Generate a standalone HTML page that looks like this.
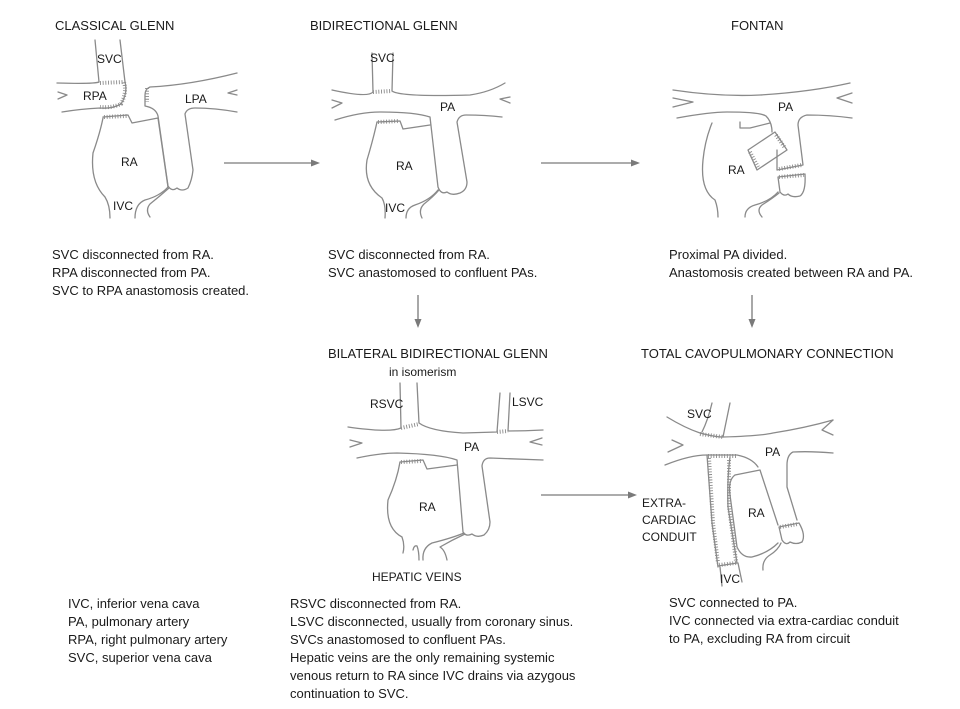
<!DOCTYPE html>
<html><head><meta charset="utf-8"><style>
html,body{margin:0;padding:0;background:#fff}
svg{display:block}
text{font-family:"Liberation Sans",sans-serif;font-size:13px;fill:#1a1a1a}
.l{fill:none;stroke:#8a8a8a;stroke-width:1.3;stroke-linejoin:round;stroke-linecap:round}
.s{fill:none;stroke:#8a8a8a;stroke-width:4;stroke-dasharray:0.9 1.8}
.a{stroke:#7a7a7a;stroke-width:1.3;fill:none}
.h{fill:#7a7a7a}
.sm{font-size:12px}
</style></head><body>
<svg width="960" height="709" viewBox="0 0 960 709">
<!-- titles -->
<text x="55" y="30">CLASSICAL GLENN</text>
<text x="310" y="30">BIDIRECTIONAL GLENN</text>
<text x="731" y="30">FONTAN</text>
<text x="328" y="358">BILATERAL BIDIRECTIONAL GLENN</text>
<text x="389" y="376" class="sm">in isomerism</text>
<text x="641" y="358">TOTAL CAVOPULMONARY CONNECTION</text>

<!-- arrows -->
<line class="a" x1="224" y1="163" x2="314" y2="163"/><polygon class="h" points="320,163 311,159.5 311,166.5"/>
<line class="a" x1="541" y1="163" x2="634" y2="163"/><polygon class="h" points="640,163 631,159.5 631,166.5"/>
<line class="a" x1="541" y1="495" x2="631" y2="495"/><polygon class="h" points="637,495 628,491.5 628,498.5"/>
<line class="a" x1="418" y1="295" x2="418" y2="322"/><polygon class="h" points="418,328 414.5,319 421.5,319"/>
<line class="a" x1="752" y1="295" x2="752" y2="322"/><polygon class="h" points="752,328 748.5,319 755.5,319"/>

<!-- CLASSICAL GLENN -->
<path class="l" d="M95,40 L99,82 Q95,84 57,83"/>
<path class="l" d="M120,40 L125,82 Q128,93 121,104 Q112,109 100,108 Q80,109 62,112"/>
<path class="s" d="M100,83 L124,82 Q127,93 121,104 Q112,108 100,107"/>
<path class="l" d="M58,92 L67,95 L58,99"/>
<path class="l" d="M237,73 Q190,85 150,87 Q145,89 145,95 L145,106 Q156,108 158,116 L168,186 Q172,192 177,188 Q182,192 188,188 Q192,180 193,170 L185,114 Q187,108 195,108 Q215,108 237,112"/>
<path class="s" d="M147,88 L147,102"/>
<path class="l" d="M237,90 L228,93 L237,95"/>
<path class="l" d="M103,117 L128,115 L132,123 L158,118 L168,187"/>
<path class="s" d="M104,117 L127,116"/>
<path class="l" d="M103,118 Q100,133 93,153 Q90,182 105,197 Q110,205 110,218"/>
<path class="l" d="M135,218 Q135,204 145,200 Q160,196 168,187"/>
<path class="l" d="M150,217 Q145,210 150,204 Q160,196 169,188"/>
<text x="97" y="63" class="sm">SVC</text>
<text x="83" y="100" class="sm">RPA</text>
<text x="185" y="103" class="sm">LPA</text>
<text x="121" y="166" class="sm">RA</text>
<text x="113" y="210" class="sm">IVC</text>

<!-- BIDIRECTIONAL GLENN -->
<path class="l" d="M372,53 L373,92 Q368,98 332,90"/>
<path class="l" d="M393,53 L392,91 Q400,97 470,95 Q490,92 505,83"/>
<path class="s" d="M373,92 L392,91"/>
<path class="l" d="M332,100 L342,103 L332,108"/>
<path class="l" d="M510,97 L500,99 L510,103"/>
<path class="l" d="M335,120 Q360,112 380,112 Q415,112 430,117 L438,187 Q441,195 447,192 Q452,196 460,193 Q467,190 467,182 L457,122 Q459,115 466,115 Q485,115 502,117"/>
<path class="l" d="M377,122 L400,121 L403,129 L430,125"/>
<path class="s" d="M378,122 L399,121"/>
<path class="l" d="M377,122 Q373,140 367,160 Q363,185 382,198 Q386,205 385,218"/>
<path class="l" d="M406,218 Q406,208 415,205 Q430,200 438,190"/>
<path class="l" d="M422,218 Q418,210 424,204 Q433,197 439,190"/>
<text x="370" y="62" class="sm">SVC</text>
<text x="440" y="111" class="sm">PA</text>
<text x="396" y="170" class="sm">RA</text>
<text x="385" y="212" class="sm">IVC</text>

<!-- FONTAN -->
<path class="l" d="M673,90 Q720,97 760,95 Q810,92 850,83"/>
<path class="l" d="M673,98 L693,102 L673,107"/>
<path class="l" d="M852,93 L837,98 L852,103"/>
<path class="l" d="M677,118 Q710,112 727,112 Q760,112 766,116 Q772,122 772,132"/>
<path class="l" d="M852,118 Q830,115 807,115 Q798,117 798,125 L803,165 L777,170 L777,150"/>
<path class="s" d="M779,169 L802,165"/>
<path class="l" d="M740,122 L740,128 L750,128 L770,123"/>
<path class="l" d="M748,150 L775,132 L787,150 L757,170 Z"/>
<path class="s" d="M750,152 L758,167"/><path class="s" d="M776,135 L785,148"/>
<path class="l" d="M712,123 Q705,140 703,160 Q700,190 715,200 Q718,208 718,217"/>
<path class="l" d="M778,177 L780,192 Q784,197 788,194 Q792,198 800,196 Q806,192 805,174 Z"/>
<path class="s" d="M779,177 L804,175"/>
<path class="l" d="M745,217 Q745,208 755,205 Q770,201 778,192"/>
<path class="l" d="M762,217 Q756,210 762,205 Q773,198 779,193"/>
<text x="778" y="111" class="sm">PA</text>
<text x="728" y="174" class="sm">RA</text>

<!-- BILATERAL -->
<path class="l" d="M400,383 L401,428 Q390,433 348,427"/>
<path class="l" d="M417,383 L419,423 Q430,431 463,433 L497,432 L500,393"/>
<path class="l" d="M510,393 L508,431 Q525,431 543,430"/>
<path class="s" d="M401,428 L419,424"/><path class="s" d="M497,432 L508,431"/>
<path class="l" d="M350,440 L362,443 L350,447"/>
<path class="l" d="M542,438 L530,442 L542,445"/>
<path class="l" d="M357,458 Q380,453 397,453 Q440,454 457,460 L463,532 Q466,537 472,534 Q477,538 484,535 Q490,530 490,522 L482,466 Q483,458 490,458 Q515,459 543,460"/>
<path class="l" d="M400,462 L423,460 L427,469 L457,465"/>
<path class="s" d="M401,462 L422,461"/>
<path class="l" d="M400,462 Q397,480 388,500 Q385,528 402,537 Q405,545 403,553"/>
<path class="l" d="M413,550 Q414,545 417,546 Q419,551 419,560"/>
<path class="l" d="M423,560 Q422,548 432,543 Q452,538 464,533"/>
<path class="l" d="M447,560 Q445,550 440,547 Q452,540 465,534"/>
<text x="370" y="408" class="sm">RSVC</text>
<text x="512" y="406" class="sm">LSVC</text>
<text x="464" y="451" class="sm">PA</text>
<text x="419" y="511" class="sm">RA</text>
<text x="372" y="581" class="sm">HEPATIC VEINS</text>

<!-- TCPC -->
<path class="l" d="M712,403 Q708,420 702,432"/>
<path class="l" d="M730,403 L723,437"/>
<path class="l" d="M667,417 Q685,428 700,433 Q715,437 723,437 Q760,436 773,433 Q805,428 833,420"/>
<path class="s" d="M700,434 L723,437"/>
<path class="l" d="M833,420 L822,430 L833,435"/>
<path class="l" d="M672,440 L683,445 L668,452"/>
<path class="l" d="M665,465 Q690,455 707,455 L737,455 Q752,458 758,467"/>
<path class="s" d="M708,456 L737,456"/>
<path class="l" d="M833,453 Q810,451 793,452 Q787,455 787,465 L787,487 L797,520"/>
<path class="l" d="M707,455 L712,523 L718,567"/>
<path class="l" d="M730,457 Q727,480 728,507 L737,563"/>
<path class="s" d="M709,458 L713,523 L718,563"/><path class="s" d="M729,460 L729,507 L736,561"/>
<path class="l" d="M718,566 L737,563"/><path class="s" d="M719,565 L736,563"/>
<path class="l" d="M720,567 L722,586"/><path class="l" d="M738,563 L742,582"/>
<path class="l" d="M735,475 L760,470 L778,525"/>
<path class="l" d="M735,475 Q728,480 730,495 L737,547 Q742,558 752,557 Q768,553 778,543"/>
<path class="l" d="M779,527 L782,540 Q786,546 790,542 Q796,545 802,542 Q806,535 799,523 Z"/>
<path class="s" d="M780,527 L798,524"/>
<path class="l" d="M763,570 Q762,560 770,555 Q778,550 781,543"/>
<text x="687" y="418" class="sm">SVC</text>
<text x="765" y="456" class="sm">PA</text>
<text x="748" y="517" class="sm">RA</text>
<text x="642" y="507" class="sm">EXTRA-</text>
<text x="642" y="524" class="sm">CARDIAC</text>
<text x="642" y="541" class="sm">CONDUIT</text>
<text x="720" y="583" class="sm">IVC</text>

<!-- text blocks -->
<text x="52" y="259">SVC disconnected from RA.</text>
<text x="52" y="277">RPA disconnected from PA.</text>
<text x="52" y="295">SVC to RPA anastomosis created.</text>
<text x="328" y="259">SVC disconnected from RA.</text>
<text x="328" y="277">SVC anastomosed to confluent PAs.</text>
<text x="669" y="259">Proximal PA divided.</text>
<text x="669" y="277">Anastomosis created between RA and PA.</text>

<text x="68" y="608">IVC, inferior vena cava</text>
<text x="68" y="626">PA, pulmonary artery</text>
<text x="68" y="644">RPA, right pulmonary artery</text>
<text x="68" y="662">SVC, superior vena cava</text>

<text x="290" y="608">RSVC disconnected from RA.</text>
<text x="290" y="626">LSVC disconnected, usually from coronary sinus.</text>
<text x="290" y="644">SVCs anastomosed to confluent PAs.</text>
<text x="290" y="662">Hepatic veins are the only remaining systemic</text>
<text x="290" y="680">venous return to RA since IVC drains via azygous</text>
<text x="290" y="698">continuation to SVC.</text>

<text x="669" y="607">SVC connected to PA.</text>
<text x="669" y="625">IVC connected via extra-cardiac conduit</text>
<text x="669" y="643">to PA, excluding RA from circuit</text>
</svg>
</body></html>
